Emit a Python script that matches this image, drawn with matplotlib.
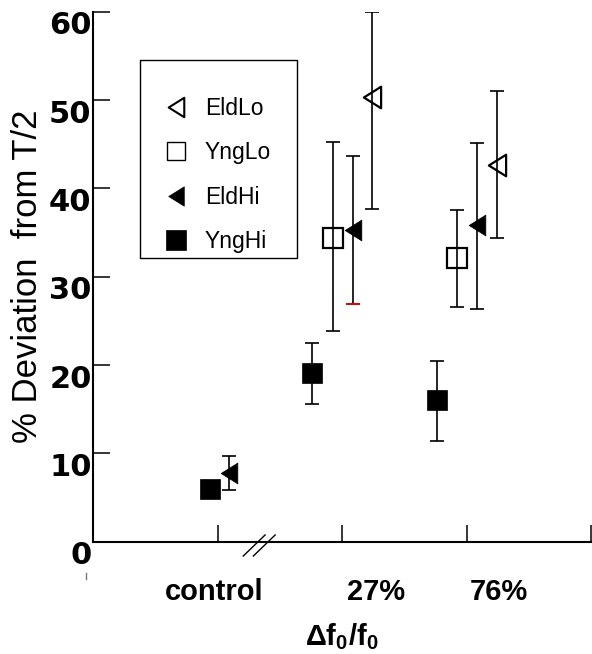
import numpy as np
import matplotlib
matplotlib.use("Agg")
import matplotlib.pyplot as plt
from matplotlib.path import Path
from matplotlib.lines import Line2D
from matplotlib.patches import Rectangle
import matplotlib.transforms as mtransforms

plt.rcParams['font.family'] = ['Liberation Sans', 'DejaVu Sans']
plt.rcParams['mathtext.fontset'] = 'custom'
plt.rcParams['mathtext.rm'] = 'Liberation Sans'
plt.rcParams['mathtext.bf'] = 'Liberation Sans:bold'
plt.rcParams['mathtext.it'] = 'Liberation Sans:italic'

# ---- data ----
groups = ['control', '27%', '76%']
series = ['EldLo', 'YngLo', 'EldHi', 'YngHi']

eldlo_mean = [np.nan, 50.3, 42.7]
eldlo_low = [np.nan, 37.7, 34.4]
eldlo_high = [np.nan, 60.0, 51.0]

ynglo_mean = [np.nan, 34.4, 32.1]
ynglo_low = [np.nan, 23.8, 26.6]
ynglo_high = [np.nan, 45.2, 37.6]

eldhi_mean = [7.8, 35.3, 35.8]
eldhi_low = [5.9, 26.9, 26.4]
eldhi_high = [9.7, 43.7, 45.1]

ynghi_mean = [6.0, 19.1, 16.0]
ynghi_low = [np.nan, 15.6, 11.4]
ynghi_high = [np.nan, 22.5, 20.5]

y_ticks = [0, 10, 20, 30, 40, 50, 60]
x_ticks = [1, 2, 3, 4]

# layout (positions along the x axis)
group_center = np.array([1.0, 2.0, 3.0])
offsets = {
    'EldLo': np.array([0.0, 0.243, 0.242]),
    'YngLo': np.array([0.0, -0.076, -0.078]),
    'EldHi': np.array([0.092, 0.085, 0.087]),
    'YngHi': np.array([-0.06, -0.237, -0.234]),
}

fig = plt.figure(figsize=(5.92, 6.54), dpi=100)
ax = fig.add_axes([93/592, 1 - 541.7/654, (591-93)/592, (541.7-11.7)/654])

tri = Path([(-0.8, 0.0), (0.8, 1.0), (0.8, -1.0), (-0.8, 0.0)],
           [Path.MOVETO, Path.LINETO, Path.LINETO, Path.CLOSEPOLY])

def draw(name, mean, low, high, marker, ms, filled):
    mean = np.array(mean, float)
    low = np.array(low, float)
    high = np.array(high, float)
    x = group_center + offsets[name]
    lo = np.where(np.isnan(low), 0, mean - low)
    hi = np.where(np.isnan(high), 0, high - mean)
    m = ~np.isnan(mean)
    has = ~np.isnan(low[m])
    if has.any():
        ax.errorbar(x[m][has], mean[m][has], yerr=[lo[m][has], hi[m][has]],
                    fmt='none', ecolor='black', elinewidth=1.2,
                    capsize=4.7, capthick=1.2, zorder=2)
    ax.plot(x[m], mean[m], linestyle='none', marker=marker, markersize=ms,
            markerfacecolor='black' if filled else 'none',
            markeredgecolor='black', markeredgewidth=1.6 if not filled else 0.5,
            zorder=3, clip_on=False)
    return x

draw('EldLo', eldlo_mean, eldlo_low, eldlo_high, tri, 15.5, False)
draw('YngLo', ynglo_mean, ynglo_low, ynglo_high, 's', 14, False)
xh = draw('EldHi', eldhi_mean, eldhi_low, eldhi_high, tri, 15, True)
draw('YngHi', ynghi_mean, ynghi_low, ynghi_high, 's', 15, True)

# red lower cap on EldHi at 27%
ax.plot([xh[1]], [eldhi_low[1]], linestyle='none', marker='_',
        markersize=9.4, markeredgewidth=1.2, color='red', zorder=4)

ax.set_xlim(0, 4)
ax.set_ylim(0, 60)
ax.set_yticks(y_ticks)
ax.set_yticklabels([str(v) for v in y_ticks], fontsize=22, fontweight='bold',
                   family=['DejaVu Sans'])
ax.set_xticks(x_ticks)
ax.set_xticklabels([''] * len(x_ticks))
ax.tick_params(axis='both', direction='in', length=12.2, width=1.1, color='black')
ax.tick_params(axis='y', pad=1)
for lab in ax.get_yticklabels():
    lab.set_transform(lab.get_transform() +
                      mtransforms.ScaledTranslation(0, -11/100, fig.dpi_scale_trans))

for s in ['top', 'right']:
    ax.spines[s].set_visible(False)
for s in ['left', 'bottom']:
    ax.spines[s].set_linewidth(1.5)

# group labels
label_x = [0.97, 2.27, 3.26]
for gx, g in zip(label_x, groups):
    ax.text(gx, -5.7, g, ha='center', va='center', fontsize=21, fontweight='bold',
            clip_on=False)
ax.text(2.0, -10.8, r'$\mathbf{\Delta f_0/f_0}$', ha='center', va='center',
        fontsize=21, clip_on=False)

ax.set_ylabel('% Deviation  from T/2', fontsize=25)
ax.yaxis.set_label_coords(-49/498, 0.5)

# axis break marks
for x0 in (1.207, 1.288):
    ax.plot([x0, x0 + 0.175], [-1.62, 0.76], color='black', lw=1.0, clip_on=False)

# small stray mark
fig.add_artist(Line2D([86/592, 86/592], [1 - 573/654, 1 - 579/654],
                     color='#777777', lw=1.0))

# legend box + entries
fig.add_artist(Rectangle((140/592, 1 - 258.3/654), (296.7-140)/592, (258.3-60)/654,
                         transform=fig.transFigure, fill=False, edgecolor='black',
                         lw=1.0))
handles = [
    Line2D([], [], linestyle='none', marker=tri, markersize=14, markerfacecolor='none',
           markeredgecolor='black', markeredgewidth=1.5),
    Line2D([], [], linestyle='none', marker='s', markersize=13, markerfacecolor='none',
           markeredgecolor='black', markeredgewidth=1.0),
    Line2D([], [], linestyle='none', marker=tri, markersize=14, markerfacecolor='black',
           markeredgecolor='black', markeredgewidth=0.5),
    Line2D([], [], linestyle='none', marker='s', markersize=14, markerfacecolor='black',
           markeredgecolor='black', markeredgewidth=0.5),
]
leg = fig.legend(handles, series, loc='upper left',
                 bbox_to_anchor=(158/592, 1 - 97/654), frameon=False,
                 fontsize=16.5, handlelength=1.6, handletextpad=0.45,
                 labelspacing=0.93, borderpad=0.0, borderaxespad=0.0)

fig.savefig('out.png', dpi=100)
